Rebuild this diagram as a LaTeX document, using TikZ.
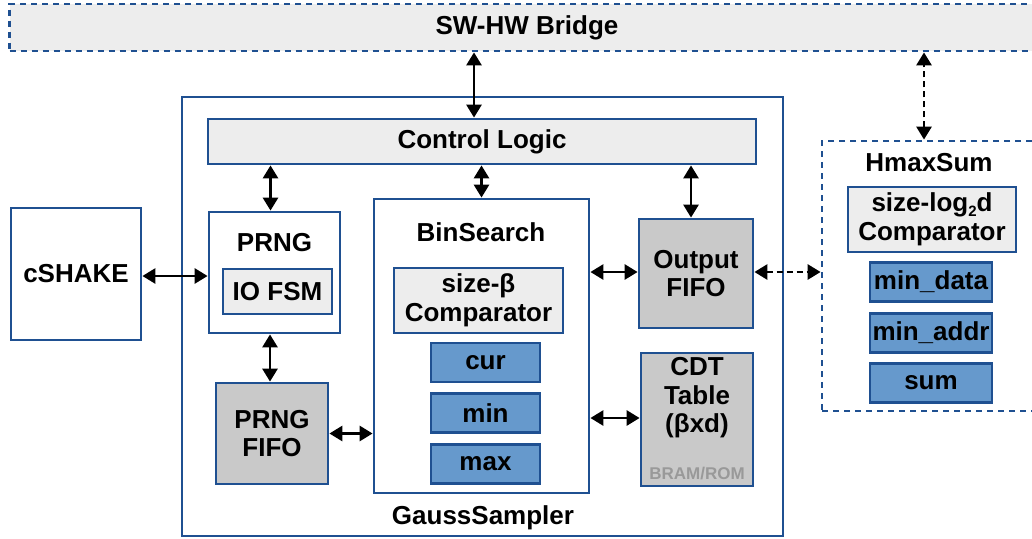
\documentclass[tikz,border=0pt]{standalone}
\usepackage{fontspec}
\setmainfont{Liberation Sans}
\usetikzlibrary{arrows.meta}

\definecolor{hwblue}{RGB}{31,80,145}
\definecolor{regblue}{RGB}{102,153,204}
\definecolor{panelgray}{RGB}{237,237,237}
\definecolor{fifogray}{RGB}{201,201,201}

\begin{document}
\begin{tikzpicture}[x=1pt,y=-1pt,
    font=\fontsize{26}{28.5}\selectfont\bfseries,
    blk/.style={draw=hwblue,line width=2.8pt,fill=white,inner sep=0pt,align=center},
    panel/.style={blk,fill=panelgray},
    fifo/.style={blk,fill=fifogray},
    reg/.style={blk,fill=regblue,minimum width=109,minimum height=39},
    virt/.style={blk,fill=panelgray,dash pattern=on 6pt off 5pt,line width=2.8pt},
    link/.style={{Triangle[length=13pt,width=15pt]}-{Triangle[length=13pt,width=15pt]},line width=2.8pt},
    dlink/.style={link,dash pattern=on 6pt off 4pt}]
  \useasboundingbox (0,0) rectangle (1032,538);

  % top level blocks
  \node[virt,minimum width=1035,minimum height=47] (bridge) at (527,27.5) {SW-HW Bridge};
  \node[blk,minimum width=130,minimum height=132] (cshake) at (76,274) {cSHAKE};
  \node[blk,minimum width=601,minimum height=439] (gauss) at (482.5,316.5) {};
  \node (gausslbl) at (483,518) {GaussSampler};
  \node[virt,fill=white,minimum width=223,minimum height=270] (hmax) at (933.5,276) {};
  \node (hmaxlbl) at (929,163) {HmaxSum};

  % inside the sampler
  \node[panel,minimum width=548,minimum height=45] (ctrl) at (482,141.5) {Control Logic};
  \node[blk,minimum width=131,minimum height=121] (prng) at (274.5,272.5) {};
  \node (prnglbl) at (274.5,243) {PRNG};
  \node[panel,minimum width=109,minimum height=45] (iofsm) at (277.5,291.5) {IO FSM};
  \node[fifo,minimum width=112,minimum height=101] (pfifo) at (272,433.5) {PRNG\\FIFO};
  \node[blk,minimum width=215,minimum height=294] (bins) at (481.5,346) {};
  \node (binslbl) at (481,232) {BinSearch};
  \node[panel,minimum width=169,minimum height=65] (bcmp) at (478.5,300.5) {size-β\\Comparator};
  \node[reg] (cur) at (485.5,362.5) {cur};
  \node[reg] (min) at (485.5,413) {min};
  \node[reg] (max) at (485.5,464) {max};
  \node[fifo,minimum width=114,minimum height=109] (ofifo) at (696,273.5) {Output\\FIFO};
  \node[fifo,minimum width=112,minimum height=133] (cdt) at (697,419.5) {};
  \node[align=center] (cdtlbl) at (697,398) {CDT\\Table\\(βxd)};
  \node[text=gray!80,font=\fontsize{17}{19}\selectfont\bfseries] (cdtmem) at (697,474) {BRAM/ROM};

  % inside HmaxSum
  \node[panel,minimum width=168,minimum height=65] (dcmp) at (932,219.5)
    {size-log\raisebox{-0.3ex}{\fontsize{15}{15}\selectfont 2}d\\Comparator};
  \node[reg,minimum width=122] (mindata) at (931,282) {min\_data};
  \node[reg,minimum width=122] (minaddr) at (931,333) {min\_addr};
  \node[reg,minimum width=122] (sum) at (931,383) {sum};

  % connections
  \draw[link] ([xshift=-8]ctrl.north) -- ([xshift=-8]ctrl.north |- bridge.south);
  \draw[dlink] ([xshift=-9.5]hmax.north) -- ([xshift=-9.5]hmax.north |- bridge.south);
  \draw[link] ([yshift=-2]cshake.east) -- ([yshift=-2]cshake.east -| prng.west);
  \draw[link] ([xshift=-4]prng.north) -- ([xshift=-4]prng.north |- ctrl.south);
  \draw[link] ([xshift=-2]pfifo.north) -- ([xshift=-2]pfifo.north |- prng.south);
  \draw[link] (pfifo.east) -- (pfifo.east -| bins.west);
  \draw[link] (bins.north) -- (bins.north |- ctrl.south);
  \draw[link] ([xshift=-5]ofifo.north) -- ([xshift=-5]ofifo.north |- ctrl.south);
  \draw[link] ([yshift=1.5]ofifo.west) -- ([yshift=1.5]ofifo.west -| bins.east);
  \draw[link] ([yshift=1.5]cdt.west) -- ([yshift=1.5]cdt.west -| bins.east);
  \draw[dlink] ([yshift=1.5]ofifo.east) -- ([yshift=1.5]ofifo.east -| hmax.west);
\end{tikzpicture}
\end{document}
